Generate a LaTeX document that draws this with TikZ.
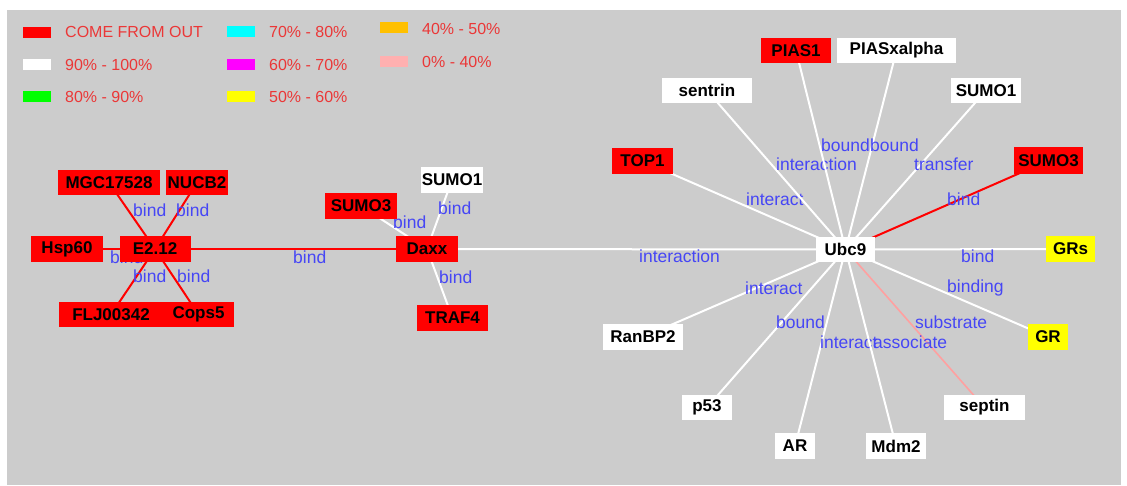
\documentclass[tikz,border=0pt]{standalone}
\usepackage{fontspec}
\setmainfont{Liberation Sans}
\definecolor{bggray}{RGB}{204,204,204}
\definecolor{lblue}{RGB}{70,70,245}
\definecolor{legred}{RGB}{235,55,55}
\definecolor{pinkline}{RGB}{255,160,160}
\definecolor{legorange}{RGB}{255,192,0}
\definecolor{legpink}{RGB}{255,176,176}
\definecolor{legcyan}{RGB}{0,255,255}
\definecolor{legmagenta}{RGB}{255,0,255}
\definecolor{leggreen}{RGB}{0,255,0}
\definecolor{legyellow}{RGB}{255,255,0}
\definecolor{nodered}{RGB}{255,0,0}
\pgfdeclarelayer{edges}
\pgfsetlayers{edges,main}
\begin{document}
\begin{tikzpicture}[x=1pt,y=-1pt,
  box/.style={draw=none, inner sep=0pt, minimum height=25pt, font=\fontsize{17}{20}\selectfont\bfseries, text=black},
  rbox/.style={box, fill=nodered},
  wbox/.style={box, fill=white},
  ybox/.style={box, fill=legyellow},
  lbl/.style={inner sep=0pt, anchor=west, text=lblue, font=\fontsize{17.5}{20}\selectfont},
  legtxt/.style={inner sep=0pt, anchor=west, text=legred, font=\fontsize{16}{18}\selectfont},
  swatch/.style={draw=none, inner sep=0pt, minimum width=28pt, minimum height=11pt},
  redge/.style={draw=nodered, line width=2pt},
  wedge/.style={draw=white, line width=2pt},
  pedge/.style={draw=pinkline, line width=1.6pt}
]
\useasboundingbox (0,0) rectangle (1127,485);
% legend
\node[swatch, fill=nodered] (s1) at (37,32) {};
\node[legtxt] (t1) at (65,32) {COME FROM OUT};
\node[swatch, fill=white] (s2) at (37,64.5) {};
\node[legtxt] (t2) at (65,65) {90\% - 100\%};
\node[swatch, fill=leggreen] (s3) at (37,96.5) {};
\node[legtxt] (t3) at (65,97) {80\% - 90\%};
\node[swatch, fill=legcyan] (s4) at (240.5,31.5) {};
\node[legtxt] (t4) at (269,32) {70\% - 80\%};
\node[swatch, fill=legmagenta] (s5) at (240.5,64.5) {};
\node[legtxt] (t5) at (269,65) {60\% - 70\%};
\node[swatch, fill=legyellow] (s6) at (240.5,96.5) {};
\node[legtxt] (t6) at (269,97) {50\% - 60\%};
\node[swatch, fill=legorange] (s7) at (393.5,27.5) {};
\node[legtxt] (t7) at (422,29) {40\% - 50\%};
\node[swatch, fill=legpink] (s8) at (393.5,61) {};
\node[legtxt] (t8) at (422,62) {0\% - 40\%};
% nodes
\node[rbox, minimum width=102pt] (mgc) at (109,182.5) {MGC17528};
\node[rbox, minimum width=62pt] (nucb) at (197,182.5) {NUCB2};
\node[rbox, minimum width=72pt, minimum height=26pt] (hsp) at (67,249) {Hsp60};
\node[rbox, minimum width=71pt, minimum height=26pt] (e212) at (155,249) {E2.12};
\node[rbox, minimum width=104pt] (flj) at (111,314.5) {FLJ00342};
\node[rbox, minimum width=71pt] (cops) at (198.5,314.5) {Cops5};
\node[rbox, minimum width=72pt, minimum height=26pt] (sumo3l) at (361,206) {SUMO3};
\node[wbox, minimum width=62pt, minimum height=26pt] (sumo1l) at (452,180) {SUMO1};
\node[rbox, minimum width=62pt, minimum height=26pt] (daxx) at (427,249) {Daxx};
\node[rbox, minimum width=71pt, minimum height=26pt] (traf) at (452.5,318) {TRAF4};
\node[rbox, minimum width=70pt] (pias1) at (796,50.5) {PIAS1};
\node[wbox, minimum width=119pt] (piasx) at (896.5,50.5) {PIASxalpha};
\node[wbox, minimum width=90pt] (sentrin) at (707,90.5) {sentrin};
\node[wbox, minimum width=70pt] (sumo1r) at (986,90.5) {SUMO1};
\node[rbox, minimum width=61pt, minimum height=26pt] (top1) at (642.5,161) {TOP1};
\node[rbox, minimum width=69pt, minimum height=27pt] (sumo3r) at (1048.5,160.5) {SUMO3};
\node[wbox, minimum width=59pt] (ubc9) at (845.5,249.5) {Ubc9};
\node[ybox, minimum width=49pt, minimum height=26pt] (grs) at (1070.5,249) {GRs};
\node[wbox, minimum width=80pt, minimum height=26pt] (ranbp) at (643,337) {RanBP2};
\node[ybox, minimum width=40pt, minimum height=26pt] (gr) at (1048,337) {GR};
\node[wbox, minimum width=50pt] (p53) at (707,407.5) {p53};
\node[wbox, minimum width=81pt] (septin) at (984.5,407.5) {septin};
\node[wbox, minimum width=40pt, minimum height=26pt] (ar) at (795,446) {AR};
\node[wbox, minimum width=60pt, minimum height=26pt] (mdm2) at (896,446) {Mdm2};
\begin{pgfonlayer}{edges}
\fill[bggray] (7,10) rectangle (1121,485);
% left cluster
\draw[redge] (hsp.center) -- (e212.center);
\node[lbl] (l1) at (110,257) {bind};
\draw[redge] (mgc.center) -- (e212.center);
\node[lbl] (l2) at (133,210) {bind};
\draw[redge] (nucb.center) -- (e212.center);
\node[lbl] (l3) at (176,210) {bind};
\draw[redge] (flj.center) -- (e212.center);
\node[lbl] (l4) at (133,276) {bind};
\draw[redge] (cops.center) -- (e212.center);
\node[lbl] (l5) at (177,276) {bind};
\draw[redge] (e212.center) -- (daxx.center);
\node[lbl] (l6) at (293,257) {bind};
\draw[wedge] (sumo3l.center) -- (daxx.center);
\node[lbl] (l7) at (393,222) {bind};
\draw[wedge] (sumo1l.center) -- (daxx.center);
\node[lbl] (l8) at (438,208) {bind};
\draw[wedge] (traf.center) -- (daxx.center);
\node[lbl] (l9) at (439,277) {bind};
\draw[wedge] (daxx.center) -- (ubc9.center);
\node[lbl] (l10) at (639,256) {interaction};
% right cluster
\draw[wedge] (top1.center) -- (ubc9.center);
\node[lbl] (l11) at (746,199) {interact};
\draw[wedge] (sentrin.center) -- (ubc9.center);
\node[lbl] (l12) at (776,164) {interaction};
\draw[wedge] (pias1.center) -- (ubc9.center);
\node[lbl] (l13) at (821,145) {bound};
\draw[wedge] (piasx.center) -- (ubc9.center);
\node[lbl] (l14) at (870,145) {bound};
\draw[wedge] (sumo1r.center) -- (ubc9.center);
\node[lbl] (l15) at (914,164) {transfer};
\draw[redge] (sumo3r.center) -- (ubc9.center);
\node[lbl] (l16) at (947,199) {bind};
\draw[wedge] (grs.center) -- (ubc9.center);
\node[lbl] (l17) at (961,256) {bind};
\draw[wedge] (ranbp.center) -- (ubc9.center);
\node[lbl] (l18) at (745,288) {interact};
\draw[wedge] (gr.center) -- (ubc9.center);
\node[lbl] (l19) at (947,288) {binding};
\draw[wedge] (p53.center) -- (ubc9.center);
\node[lbl] (l20) at (776,322) {bound};
\draw[wedge] (ar.center) -- (ubc9.center);
\node[lbl] (l21) at (820,342) {interact};
\draw[pedge] (septin.center) -- (ubc9.center);
\node[lbl] (l22) at (915,322) {substrate};
\draw[wedge] (mdm2.center) -- (ubc9.center);
\node[lbl] (l23) at (873,342) {associate};
\end{pgfonlayer}
\end{tikzpicture}
\end{document}
